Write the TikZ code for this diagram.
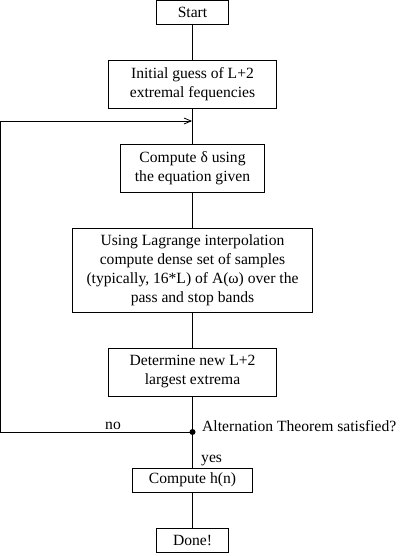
\documentclass[tikz,border=0pt]{standalone}
\usepackage{fontspec}
\setmainfont{Liberation Serif}
\usetikzlibrary{arrows.meta}
\begin{document}
\begin{tikzpicture}[x=1pt,y=-1pt]
        \tikzstyle{box}=[rectangle,draw,line width=0.8pt,align=center,inner sep=0pt,font=\fontsize{15.6}{19}\selectfont]
        \tikzstyle{lbl}=[font=\fontsize{15.6}{19}\selectfont,inner sep=0pt]
        \tikzstyle{flow}=[line width=0.8pt]
        \useasboundingbox (0,0) rectangle (406,556);
        \node[box,minimum width=72pt,minimum height=23.5pt] (start) at (192.5,12.25) {Start};
        \node[box,minimum width=168pt,minimum height=47.5pt] (guess) at (192.5,84.25) {Initial guess of L+2\\extremal fequencies};
        \node[box,minimum width=144pt,minimum height=47.5pt] (delta) at (192.5,168.25) {Compute δ using\\the equation given};
        \node[box,minimum width=240pt,minimum height=84pt] (lagrange) at (192.5,270) {Using Lagrange interpolation\\compute dense set of samples\\(typically, 16*L) of A(ω) over the\\pass and stop bands};
        \node[box,minimum width=168pt,minimum height=48pt] (extrema) at (192.5,372) {Determine new L+2\\largest extrema};
        \node[box,minimum width=120pt,minimum height=24pt] (hn) at (192.5,480) {Compute h(n)};
        \node[box,minimum width=72pt,minimum height=24pt] (done) at (192.5,540) {Done!};
        \coordinate (test) at (192.5,432);
        \coordinate (corner) at (0.5,432);
        \coordinate (back) at (0.5,121);
        \coordinate (join) at (192,121);
        \node[lbl,anchor=west] (theorem) at (202,426) {Alternation Theorem satisfied?};
        \node[lbl] (no) at (113,426) {no};
        \node[lbl,anchor=west] (yes) at (201,461) {yes};
        \draw[flow] (start) -- (guess);
        \draw[flow] (guess) -- (delta);
        \draw[flow] (delta) -- (lagrange);
        \draw[flow] (lagrange) -- (extrema);
        \draw[flow] (extrema) -- (test) -- (hn);
        \draw[flow] (hn) -- (done);
        \draw[flow,-{Straight Barb[length=7pt,width=6pt]}] (test) -- (corner) -- (back) -- (join);
        \fill (test) circle (3pt);
\end{tikzpicture}
\end{document}
